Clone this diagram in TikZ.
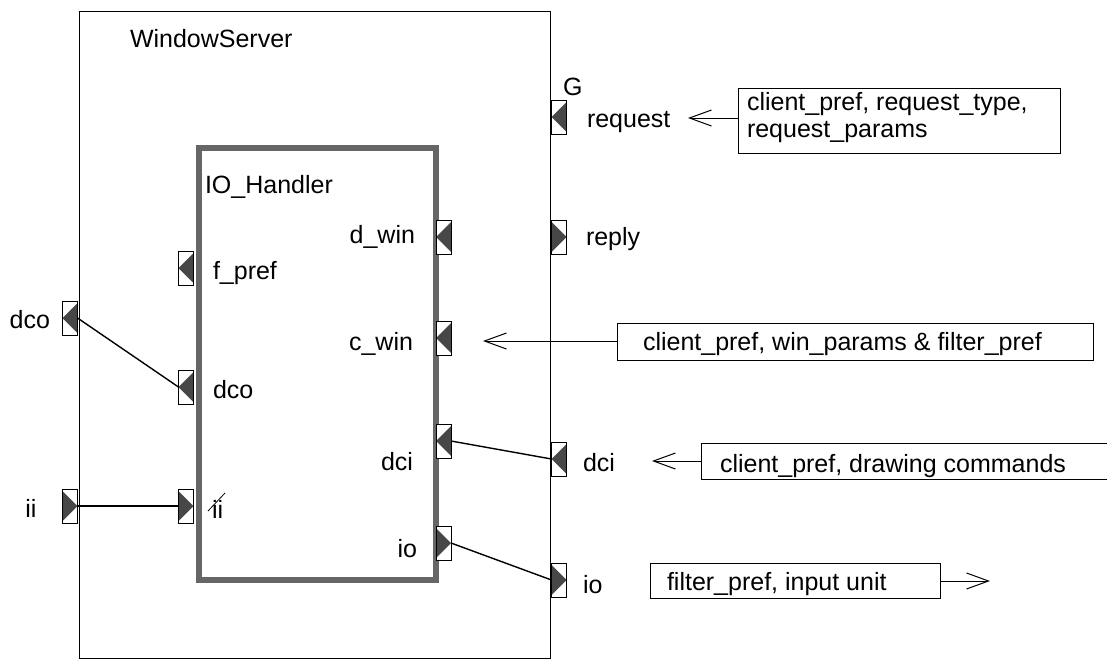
\documentclass[tikz,border=0pt]{standalone}
\usepackage{fontspec}
\setmainfont{Liberation Sans}
\usetikzlibrary{arrows.meta}
\begin{document}
\begin{tikzpicture}[x=1pt,y=-1pt,
  font=\fontsize{25}{28}\selectfont,
  lbl/.style={inner sep=0pt,outer sep=0pt},
  port/.style={draw,line width=1pt,fill=white,minimum width=15pt,minimum height=34pt,inner sep=0pt,outer sep=0pt},
  portfill/.style={fill=black!72},
  portL/.style={port,path picture={\fill[portfill]
      ([yshift=-2pt]path picture bounding box.north east) --
      (path picture bounding box.west) --
      ([yshift=2pt]path picture bounding box.south east) -- cycle;}},
  portR/.style={port,path picture={\fill[portfill]
      ([yshift=-2pt]path picture bounding box.north west) --
      (path picture bounding box.east) --
      ([yshift=2pt]path picture bounding box.south west) -- cycle;}},
  conn/.style={line width=1.4pt},
  arr/.style={line width=1pt,-{Straight Barb[length=22pt,width=16pt,line width=1pt]}},
  databox/.style={draw,line width=1pt,inner sep=0pt,outer sep=0pt,anchor=north west}
]
\useasboundingbox (0,0) rectangle (1107,661);

% outer component
\node[draw,line width=1.2pt,minimum width=471pt,minimum height=647pt,inner sep=0pt,anchor=north west] (ws) at (79,11) {};
\node[lbl,anchor=base west] (wsl) at (130,48) {WindowServer};

% inner component
\node[draw=black!60,line width=6pt,minimum width=237pt,minimum height=432pt,inner sep=0pt,anchor=north west] (ioh) at (196,145) {};
\node[lbl,anchor=base west] (iohl) at (205,193) {IO\_Handler};

% connectors
\draw[conn] (70,318) ++(7.5,0) coordinate (odcoE) -- (178.5,387) coordinate (idcoW);
\draw[conn] (77.5,506) coordinate (oiiE) -- (178.5,506) coordinate (iiiW);
\draw[conn] (451,441) coordinate (idciE) -- (551.5,459) coordinate (odciW);
\draw[conn] (451,543) coordinate (iioE) -- (551.5,580) coordinate (oioW);

% ports of WindowServer (left)
\node[portL] (odco) at (70,318) {};
\node[portR] (oii) at (70,506) {};
% ports of WindowServer (right)
\node[portL] (oreq) at (559,117) {};
\node[portR] (orep) at (559,237) {};
\node[portL] (odci) at (559,459) {};
\node[portR] (oio) at (559,580) {};
% ports of IO_Handler (left)
\node[portL] (ifp) at (186,268) {};
\node[portL] (idco) at (186,387) {};
\node[portR] (iii) at (186,506) {};
% ports of IO_Handler (right)
\node[portL] (idw) at (443.5,237) {};
\node[portL] (icw) at (443.5,338) {};
\node[portL] (idci) at (443.5,441) {};
\node[portR] (iio) at (443.5,543) {};

% port labels
\node[lbl,anchor=base east] (lodco) at (50,328) {dco};
\node[lbl,anchor=base] (loii) at (31,517) {ii};
\node[lbl,anchor=base west] (lifp) at (213,279) {f\_pref};
\node[lbl,anchor=base west] (lidco) at (213,398) {dco};
\node[lbl,anchor=base west] (liii) at (212,518) {ii};
\draw[line width=0.8pt] (208,511) -- (225,493);
\node[lbl,anchor=base east] (lidw) at (415,243) {d\_win};
\node[lbl,anchor=base east] (licw) at (413,350) {c\_win};
\node[lbl,anchor=base east] (lidci) at (413,470) {dci};
\node[lbl,anchor=base east] (liio) at (417,557) {io};
\node[lbl,anchor=base west] (lG) at (563,95) {G};
\node[lbl,anchor=base west] (loreq) at (587,127) {request};
\node[lbl,anchor=base west] (lorep) at (586,245) {reply};
\node[lbl,anchor=base west] (lodci) at (583,471) {dci};
\node[lbl,anchor=base west] (loio) at (583,593) {io};

% data boxes
\node[databox,minimum width=322pt,minimum height=65pt] (rbox) at (738,88) {};
\node[lbl,anchor=base west] (rt1) at (747,110) {client\_pref, request\_type,};
\node[lbl,anchor=base west] (rt2) at (747,137) {request\_params};

\node[databox,minimum width=476pt,minimum height=37pt] (cbox) at (617,323) {};
\node[lbl,anchor=base west] (ct) at (643,350) {client\_pref, win\_params \& filter\_pref};

\coordinate (dboxNW) at (701,443);
\coordinate (dboxSW) at (701,479);
\draw[line width=1pt] (1107,443) -- (dboxNW) -- (dboxSW) -- (1107,479);
\node[lbl,anchor=base west] (dt) at (720,472) {client\_pref, drawing commands};

\node[databox,minimum width=290pt,minimum height=35pt] (obox) at (650,563) {};
\node[lbl,anchor=base west] (ot) at (667,590) {filter\_pref, input unit};

% flow arrows
\coordinate (rtip) at (688,118);
\draw[arr] (rtip -| rbox.west) -- (rtip);
\coordinate (ctip) at (483,341);
\draw[arr] (ctip -| cbox.west) -- (ctip);
\coordinate (dtip) at (652,461);
\draw[arr] (dtip -| dboxNW) -- (dtip);
\coordinate (otip) at (990,581);
\draw[arr] (otip -| obox.east) -- (otip);
\end{tikzpicture}
\end{document}
